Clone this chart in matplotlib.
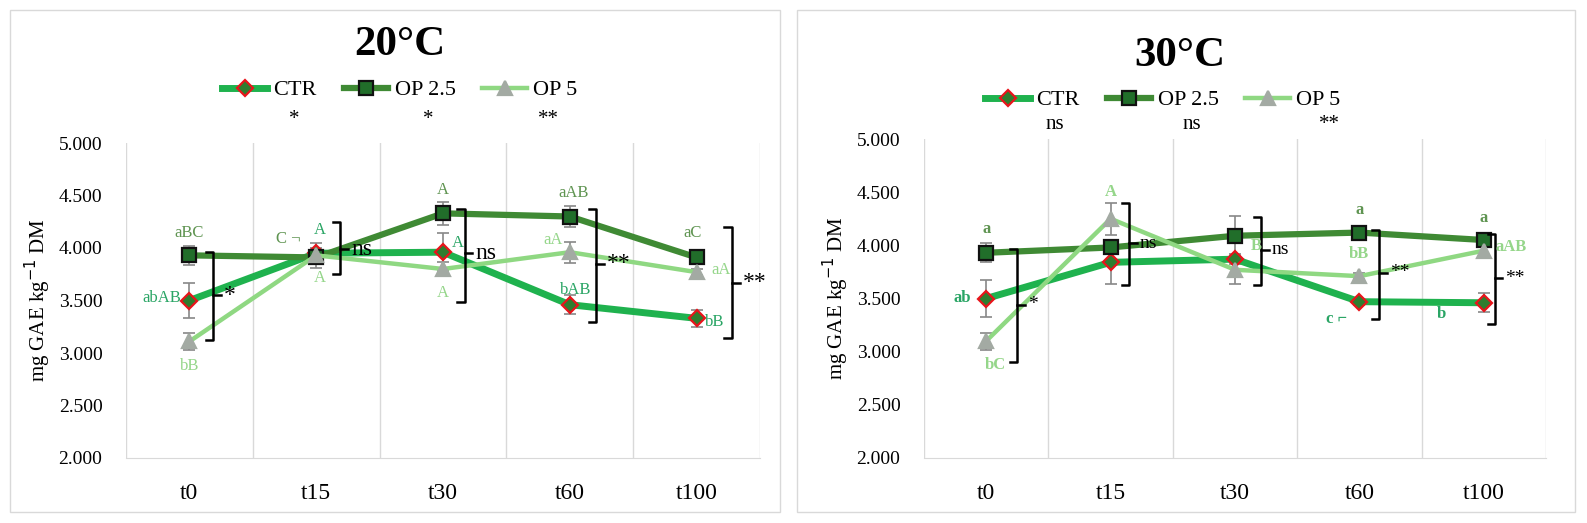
import numpy as np
import matplotlib.pyplot as plt
from matplotlib.patches import Rectangle

plt.rcParams['font.family'] = ['Liberation Serif', 'DejaVu Serif']

times = ['t0', 't15', 't30', 't60', 't100']
series = ['CTR', 'OP 2.5', 'OP 5']

# 20 degC
ctr_20 = [3.50, 3.95, 3.96, 3.46, 3.33]
op25_20 = [3.93, 3.91, 4.33, 4.30, 3.91]
op5_20 = [3.11, 3.93, 3.80, 3.96, 3.77]
ctr_20_err = [0.17, 0.05, 0.18, 0.09, 0.08]
op25_20_err = [0.09, 0.03, 0.11, 0.10, 0.03]
op5_20_err = [0.08, 0.12, 0.07, 0.10, 0.03]

# 30 degC
ctr_30 = [3.50, 3.84, 3.87, 3.47, 3.46]
op25_30 = [3.93, 3.98, 4.09, 4.12, 4.05]
op5_30 = [3.10, 4.25, 3.77, 3.71, 3.95]
ctr_30_err = [0.17, 0.20, 0.05, 0.03, 0.09]
op25_30_err = [0.09, 0.04, 0.19, 0.04, 0.04]
op5_30_err = [0.08, 0.15, 0.13, 0.03, 0.07]

# significance between times (top row)
top_sig_20 = ['*', '*', '**']
top_sig_x_20 = [0.83, 1.88, 2.83]
top_sig_30 = ['ns', 'ns', '**']
top_sig_x_30 = [0.55, 1.65, 2.76]

# brackets per time: x, top, bottom, tick, label
br_20 = [(0.19, 3.96, 3.12, 3.55, '*'),
         (1.19, 4.25, 3.75, 3.99, 'ns'),
         (2.17, 4.37, 3.49, 3.95, 'ns'),
         (3.21, 4.37, 3.30, 3.85, '**'),
         (4.28, 4.20, 3.14, 3.67, '**')]
br_30 = [(0.25, 3.97, 2.90, 3.44, '*'),
         (1.15, 4.40, 3.63, 4.02, 'ns'),
         (2.21, 4.27, 3.63, 3.96, 'ns'),
         (3.16, 4.14, 3.31, 3.74, '**'),
         (4.09, 4.11, 3.26, 3.69, '**')]

# letters: x, y, text, series index
let_20 = [(0, 4.14, 'aBC', 1), (-0.22, 3.52, 'abAB', 0), (0, 2.88, 'bB', 2),
          (0.78, 4.09, 'C \u00ac', 1), (1.03, 4.17, 'A', 0), (1.03, 3.71, 'A', 2),
          (2.0, 4.55, 'A', 1), (2.12, 4.05, 'A', 0), (2.0, 3.57, 'A', 2),
          (3.03, 4.52, 'aAB', 1), (2.87, 4.08, 'aA', 2), (3.05, 3.60, 'bAB', 0),
          (3.97, 4.14, 'aC', 1), (4.19, 3.79, 'aA', 2), (4.14, 3.30, 'bB', 0)]
let_30 = [(0, 4.15, 'a', 1), (-0.19, 3.50, 'ab', 0), (0.07, 2.87, 'bC', 2),
          (1.0, 4.50, 'A', 2),
          (2.17, 3.99, 'B', 2),
          (3.0, 4.33, 'a', 1), (3.0, 3.92, 'bB', 2), (2.82, 3.31, 'c \u2310', 0),
          (4.0, 4.26, 'a', 1), (4.22, 3.98, 'aAB', 2), (3.66, 3.35, 'b', 0)]

line_cols = ['#1fb24e', '#3f8a34', '#8fd882']
label_cols = ['#2aa565', '#5f9451', '#95d68a']
lws = [5.0, 4.5, 3.2]
markers = ['D', 's', '^']
m_face = ['#2f7d2f', '#216e2a', '#a3aaa3']
m_edge = ['#e8141b', '#111111', '#a3aaa3']
m_size = [8, 10, 10]


def bracket(ax, x, top, bot, tick, lab, h, fs):
    ax.plot([x - h, x, x, x - h], [top, top, bot, bot], color='black',
            lw=1.8, solid_joinstyle='round', clip_on=False, zorder=8)
    ax.plot([x, x + h], [tick, tick], color='black', lw=1.8, clip_on=False,
            zorder=8)
    ax.text(x + h * 1.4, tick, lab, ha='left', va='center', fontsize=fs,
            color='black', clip_on=False, zorder=9)


def panel(ax, data, errs, brs, lets, sig, sig_x, sig_y, bold, sig_fs, br_fs):
    x = np.arange(len(times))
    for i, name in enumerate(series):
        ax.errorbar(x, data[i], yerr=errs[i], fmt='none', ecolor='#888888',
                    elinewidth=1.2, capsize=4, capthick=1.2, zorder=2)
    for i, name in enumerate(series):
        ax.plot(x, data[i], color=line_cols[i], lw=lws[i], marker=markers[i],
                ms=m_size[i], mfc=m_face[i], mec=m_edge[i], mew=1.6,
                label=name, zorder=3 + i)
    for b in brs:
        bracket(ax, *b, h=0.06, fs=br_fs)
    for (lx, ly, t, si) in lets:
        ax.text(lx, ly, t, ha='center', va='center', fontsize=12, zorder=9,
                color=label_cols[si], fontweight='bold' if bold else 'normal')
    for s, sx in zip(sig, sig_x):
        ax.text(sx, sig_y, s, ha='center', va='center', fontsize=sig_fs,
                clip_on=False)
    ax.set_xlim(-0.5, 4.5)
    ax.set_ylim(2.0, 5.0)
    ax.set_xticks(x)
    ax.set_xticklabels(times, fontsize=17)
    ax.set_yticks(np.arange(2.0, 5.01, 0.5))
    ax.set_yticklabels(['%.3f' % v for v in np.arange(2.0, 5.01, 0.5)],
                       fontsize=14)
    ax.set_xticks(np.arange(-0.5, 4.6, 1.0), minor=True)
    ax.grid(axis='x', which='minor', color='#d9d9d9', lw=1.0)
    ax.tick_params(which='both', length=0)
    ax.tick_params(axis='x', pad=18)
    ax.tick_params(axis='y', pad=17)
    for sp in ['top', 'right', 'left']:
        ax.spines[sp].set_visible(False)
    ax.spines['bottom'].set_color('#d9d9d9')
    ax.set_ylabel(r'mg GAE kg$^{-1}$ DM', fontsize=15, labelpad=4)


fig = plt.figure(figsize=(15.87, 5.23), dpi=100)
fig.patches.append(Rectangle((10 / 1587, 11 / 523), 770 / 1587, 502 / 523,
                             transform=fig.transFigure, fill=False,
                             ec='#d9d9d9', lw=1.0))
fig.patches.append(Rectangle((797 / 1587, 11 / 523), 778 / 1587, 502 / 523,
                             transform=fig.transFigure, fill=False,
                             ec='#d9d9d9', lw=1.0))

ax1 = fig.add_axes([126 / 1587, 65 / 523, 634 / 1587, 315 / 523])
ax2 = fig.add_axes([924 / 1587, 65 / 523, 622 / 1587, 319 / 523])

panel(ax1, [ctr_20, op25_20, op5_20], [ctr_20_err, op25_20_err, op5_20_err],
      br_20, let_20, top_sig_20, top_sig_x_20, 5.22, False, 15, 17)
panel(ax2, [ctr_30, op25_30, op5_30], [ctr_30_err, op25_30_err, op5_30_err],
      br_30, let_30, top_sig_30, top_sig_x_30, 5.14, True, 15, 14)

fig.text(400 / 1587, 1 - 45 / 523, '20\u00b0C', ha='center', va='center',
         fontsize=31, fontweight='bold')
fig.text(1180 / 1587, 1 - 56 / 523, '30\u00b0C', ha='center', va='center',
         fontsize=31, fontweight='bold')

h, l = ax1.get_legend_handles_labels()
fig.legend(h, l, loc='center', bbox_to_anchor=(400 / 1587, 1 - 90 / 523),
           ncol=3, frameon=False, fontsize=16, handlelength=2.0,
           columnspacing=1.2, handletextpad=0.3)
h, l = ax2.get_legend_handles_labels()
fig.legend(h, l, loc='center', bbox_to_anchor=(1163 / 1587, 1 - 100 / 523),
           ncol=3, frameon=False, fontsize=16, handlelength=2.0,
           columnspacing=1.2, handletextpad=0.3)

fig.savefig('out.png', dpi=100)
